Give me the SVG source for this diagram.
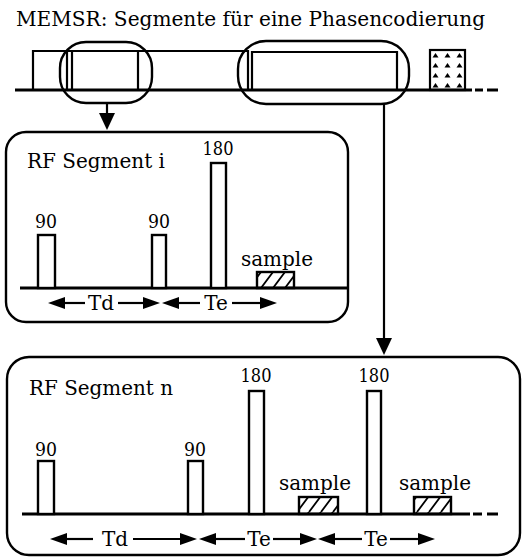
<svg xmlns="http://www.w3.org/2000/svg" width="527" height="558" viewBox="0 0 527 558">
<style>
.t{font-family:"DejaVu Serif","Liberation Serif",serif;fill:#000}
.lbl{font-size:20px}
.num{font-size:19px;text-anchor:middle}
.smp{font-size:20px;text-anchor:middle}
.ln{stroke:#000;stroke-width:2.2;fill:none}
.base{stroke:#000;stroke-width:3;fill:none}
.pulse{fill:#fff;stroke:#000;stroke-width:2.4}
.box{fill:none;stroke:#000;stroke-width:2.4}
.head{fill:#000}
</style>
<defs>
<pattern id="hatch" patternUnits="userSpaceOnUse" width="12" height="16">
<path d="M-3,16 L9,0 M9,16 L21,0" stroke="#000" stroke-width="1.8"/>
</pattern>
<pattern id="dots" patternUnits="userSpaceOnUse" x="430" y="50" width="12" height="10">
<path d="M2.5,7.5 L5.5,3 L8.5,7.5 Z" fill="#000"/>
</pattern>
</defs>
<rect width="527" height="558" fill="#fff"/>
<text class="t" x="16" y="26" font-size="20" textLength="469" lengthAdjust="spacingAndGlyphs">MEMSR: Segmente für eine Phasencodierung</text>

<g id="overview">
<line class="base" x1="15" y1="90" x2="472" y2="90"/>
<line class="base" x1="475" y1="90" x2="483" y2="90"/>
<line class="base" x1="487" y1="90" x2="498" y2="90"/>
<path class="ln" d="M33,90 V51 H248 V90"/>
<line class="ln" x1="67" y1="51" x2="67" y2="90"/>
<path class="ln" d="M72,90 V51 H138 V90"/>
<path class="ln" d="M252,90 V52 H397 V90"/>
<rect x="430" y="50" width="35" height="40" fill="url(#dots)" stroke="#000" stroke-width="2.2"/>
</g>
<g id="select-i"><rect class="box" x="60" y="42" width="92" height="61" rx="26"/></g>
<g id="select-n"><rect class="box" x="238" y="41" width="171" height="63" rx="28"/></g>

<g id="connectors">
<line class="ln" x1="107" y1="103" x2="107" y2="115"/>
<path class="head" d="M99,113 L115,113 L107,130 Z"/>
<line class="ln" x1="384" y1="104" x2="384" y2="340"/>
<path class="head" d="M376,338 L392,338 L384,355 Z"/>
</g>

<g id="segment-i">
<rect class="box" x="6" y="132" width="342" height="190" rx="20"/>
<text class="t lbl" x="27" y="168" textLength="138" lengthAdjust="spacingAndGlyphs">RF Segment i</text>
<line class="base" x1="20" y1="288" x2="348" y2="288"/>
<rect class="pulse" x="38" y="235" width="17" height="53"/>
<rect class="pulse" x="152" y="235" width="14" height="53"/>
<rect class="pulse" x="211" y="163" width="15" height="125"/>
<rect x="257" y="272" width="37" height="16" fill="url(#hatch)" stroke="#000" stroke-width="2.4"/>
<text class="t num" x="46" y="228" textLength="22" lengthAdjust="spacingAndGlyphs">90</text>
<text class="t num" x="159" y="228" textLength="22" lengthAdjust="spacingAndGlyphs">90</text>
<text class="t num" x="218" y="155" textLength="31" lengthAdjust="spacingAndGlyphs">180</text>
<text class="t smp" x="277" y="266">sample</text>
<g class="ln">
<line x1="62" y1="303" x2="85" y2="303"/>
<line x1="118" y1="303" x2="146" y2="303"/>
<line x1="176" y1="303" x2="200" y2="303"/>
<line x1="232" y1="303" x2="262" y2="303"/>
</g>
<path class="head" d="M48,303 L65,297 L65,309 Z"/>
<path class="head" d="M160,303 L143,297 L143,309 Z"/>
<path class="head" d="M162,303 L179,297 L179,309 Z"/>
<path class="head" d="M277,303 L260,297 L260,309 Z"/>
<text class="t lbl" x="101" y="310" text-anchor="middle">Td</text>
<text class="t lbl" x="216" y="310" text-anchor="middle">Te</text>
</g>

<g id="segment-n">
<rect class="box" x="7" y="357" width="513" height="198" rx="22"/>
<text class="t lbl" x="29" y="395" textLength="144" lengthAdjust="spacingAndGlyphs">RF Segment n</text>
<line class="base" x1="22" y1="514" x2="470" y2="514"/>
<line class="base" x1="473" y1="514" x2="482" y2="514"/>
<line class="base" x1="487" y1="514" x2="498" y2="514"/>
<rect class="pulse" x="38" y="461" width="16" height="53"/>
<rect class="pulse" x="188" y="461" width="15" height="53"/>
<rect class="pulse" x="249" y="391" width="15" height="123"/>
<rect class="pulse" x="367" y="391" width="14" height="123"/>
<rect x="299" y="497" width="39" height="17" fill="url(#hatch)" stroke="#000" stroke-width="2.4"/>
<rect x="414" y="497" width="37" height="17" fill="url(#hatch)" stroke="#000" stroke-width="2.4"/>
<text class="t num" x="46" y="456" textLength="22" lengthAdjust="spacingAndGlyphs">90</text>
<text class="t num" x="195" y="456" textLength="22" lengthAdjust="spacingAndGlyphs">90</text>
<text class="t num" x="256" y="382" textLength="31" lengthAdjust="spacingAndGlyphs">180</text>
<text class="t num" x="374" y="382" textLength="31" lengthAdjust="spacingAndGlyphs">180</text>
<text class="t smp" x="315" y="490">sample</text>
<text class="t smp" x="435" y="490">sample</text>
<g class="ln">
<line x1="63" y1="539" x2="93" y2="539"/>
<line x1="133" y1="539" x2="183" y2="539"/>
<line x1="213" y1="539" x2="245" y2="539"/>
<line x1="273" y1="539" x2="302" y2="539"/>
<line x1="331" y1="539" x2="362" y2="539"/>
<line x1="390" y1="539" x2="420" y2="539"/>
</g>
<path class="head" d="M50,539 L67,533 L67,545 Z"/>
<path class="head" d="M197,539 L180,533 L180,545 Z"/>
<path class="head" d="M199,539 L216,533 L216,545 Z"/>
<path class="head" d="M317,539 L300,533 L300,545 Z"/>
<path class="head" d="M318,539 L335,533 L335,545 Z"/>
<path class="head" d="M435,539 L418,533 L418,545 Z"/>
<text class="t lbl" x="115" y="546" text-anchor="middle">Td</text>
<text class="t lbl" x="259" y="546" text-anchor="middle">Te</text>
<text class="t lbl" x="376" y="546" text-anchor="middle">Te</text>
</g>
</svg>
